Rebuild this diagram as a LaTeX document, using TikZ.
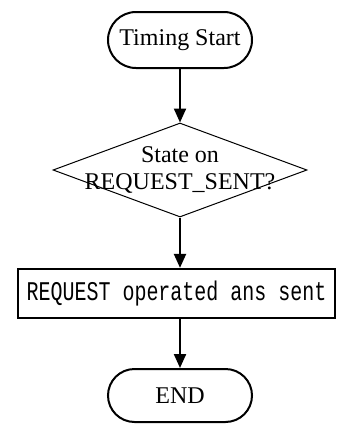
\documentclass[tikz,border=0pt]{standalone}
\usepackage{fontspec}
\setmainfont{Liberation Serif}
\newfontfamily\boxmono[FakeStretch=0.74]{Liberation Mono}
\usetikzlibrary{arrows.meta,shapes.geometric,shapes.misc}
\tikzset{
  terminal/.style={rounded rectangle, draw, line width=2pt, minimum width=144pt,
    inner sep=0pt, font=\fontsize{24}{27}\selectfont},
  decision/.style={diamond, draw, line width=1pt, minimum width=254pt,
    minimum height=94pt, inner sep=0pt},
  process/.style={rectangle, draw, line width=2.3pt, minimum width=317pt,
    minimum height=49pt, inner sep=0pt, font=\boxmono\fontsize{27}{30}\selectfont},
  flow/.style={line width=2.2pt, -{Triangle[width=12pt,length=14pt]}},
}
\begin{document}
\begin{tikzpicture}[x=1pt,y=-1pt]
  \useasboundingbox (0,0) rectangle (342,424);
  \node[terminal, minimum height=56pt] (start) at (180,40) {Timing Start};
  \node[decision] (dec) at (180,170) {};
  \node[align=center, inner sep=0pt, font=\fontsize{24}{27}\selectfont] (dectext) at (dec.center) {State on\\REQUEST\_SENT?};
  \node[process] (proc) at (176.5,293.5) {REQUEST operated ans sent};
  \node[terminal, minimum height=53pt] (stop) at (180,395.5) {END};
  \draw[flow] (start.south) -- (dec.north);
  \draw[flow] (dec.south) -- (dec.south |- proc.north);
  \draw[flow] (stop.north |- proc.south) -- (stop.north);
\end{tikzpicture}
\end{document}
